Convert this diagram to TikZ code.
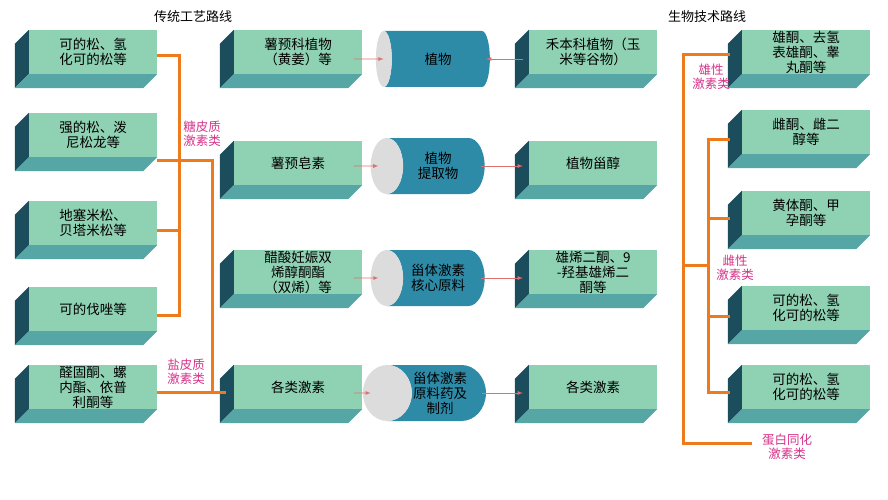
\documentclass[tikz,border=0pt]{standalone}
\usepackage{fontspec}
\setmainfont{Noto Sans CJK SC}
\usetikzlibrary{shapes.geometric}
\definecolor{boxfront}{HTML}{8FD1B3}
\definecolor{boxside}{HTML}{1B4D5C}
\definecolor{boxbottom}{HTML}{56A6A6}
\definecolor{cylbody}{HTML}{2E8BA8}
\definecolor{cylend}{HTML}{DCDCDC}
\definecolor{route}{HTML}{EE7A1C}
\definecolor{tag}{HTML}{D6338A}
\definecolor{link}{HTML}{E07070}
\tikzset{
  box/.style={fill=boxfront, minimum width=128pt, minimum height=44pt, inner sep=0pt,
    align=center, text width=104pt, font=\fontsize{13.5}{15}\selectfont},
  drum/.style={cylinder, shape border rotate=180, shape aspect=1.1, minimum width=56pt,
    minimum height=114pt, inner sep=1pt, cylinder uses custom fill, cylinder end fill=cylend,
    cylinder body fill=cylbody, align=center, font=\fontsize{13.5}{15}\selectfont},
  tagtext/.style={text=tag, align=center, font=\fontsize{12.5}{14}\selectfont},
  branch/.style={route, line width=3pt},
  feed/.style={link, thick, -latex}
}
% box with shaded left and bottom faces
\newcommand{\prism}[3]{%
  \node[box] (#1) at (#2) {#3};
  \fill[boxside] (#1.north west) -- (#1.south west) -- ++(-14,14) -- ([shift={(-14,14)}]#1.north west) -- cycle;
  \fill[boxbottom] (#1.south west) -- (#1.south east) -- ++(-14,14) -- ([shift={(-14,14)}]#1.south west) -- cycle;
}
\begin{document}
\begin{tikzpicture}[x=1pt, y=-1pt]
  \useasboundingbox (0,0) rectangle (888,500);
  \node at (193,17) {\fontsize{13}{15}\selectfont 传统工艺路线};
  \node at (707,17) {\fontsize{13}{15}\selectfont 生物技术路线};

  % traditional route
  \prism{l1}{93,52}{可的松、氢\\化可的松等}
  \prism{l2}{93,135}{强的松、泼\\尼松龙等}
  \prism{l3}{93,223}{地塞米松、\\贝塔米松等}
  \prism{l4}{93,309}{可的伐唑等}
  \prism{l5}{93,387}{醛固酮、螺\\内酯、依普\\利酮等}

  % raw materials
  \prism{m1}{298,52}{薯预科植物\\（黄姜）等}
  \prism{m2}{298,163}{薯预皂素}
  \prism{m3}{298,272}{醋酸妊娠双\\烯醇酮酯\\（双烯）等}
  \prism{m4}{298,387}{各类激素}

  \node[drum] (c1) at (438,59) {植物};
  \node[drum] (c2) at (438,166) {植物\\提取物};
  \node[drum] (c3) at (438,278) {甾体激素\\核心原料};
  \node[drum] (c4) at (440,393) {甾体激素\\原料药及\\制剂};

  \prism{r1}{593,52}{禾本科植物（玉\\米等谷物）};
  \prism{r2}{593,163}{植物甾醇}
  \prism{r3}{593,272}{雄烯二酮、9\\-羟基雄烯二\\酮等}
  \prism{r4}{593,387}{各类激素}

  % biotech route
  \prism{b1}{806,52}{雄酮、去氢\\表雄酮、睾\\丸酮等}
  \prism{b2}{806,132}{雌酮、雌二\\醇等}
  \prism{b3}{806,213}{黄体酮、甲\\孕酮等}
  \prism{b4}{806,308}{可的松、氢\\化可的松等}
  \prism{b5}{806,387}{可的松、氢\\化可的松等}

  \foreach \i in {1,...,4}
    \draw[feed] ([xshift=-8pt]m\i.east |- c\i.center) -- ([xshift=8pt]c\i.west);
  \draw[feed] ([xshift=-6pt]r1.west |- c1.center) -- ([xshift=-4pt]c1.east);
  \foreach \i in {2,3,4}
    \draw[feed] ([xshift=-4pt]c\i.east) -- ([xshift=-6pt]r\i.west |- c\i.center);

  % left branches
  \coordinate (gl) at (179,0);
  \coordinate (gm) at (212,0);
  \draw[branch] (l1.east |- 0,56) -| (gl |- 0,315) -- (l4.east |- 0,315);
  \draw[branch] (l2.east |- 0,160) -| (gm |- 0,392);
  \draw[branch] (l3.east |- 0,230) -- (gl |- 0,230);
  \draw[branch] (l5.east |- 0,392) -- ([xshift=-8pt]m4.west |- 0,392);
  \node[tagtext] (t1) at (202,134) {糖皮质\\激素类};
  \node[tagtext] (t2) at (186,372) {盐皮质\\激素类};

  % right branches
  \coordinate (gr) at (683,0);
  \coordinate (gs) at (708,0);
  \coordinate (pa) at (752,443);
  \draw[branch] ([xshift=-12pt]b1.west |- 0,55) -| (gr |- pa) -- (pa);
  \draw[branch] ([xshift=-12pt]b2.west |- 0,139) -| (gs |- 0,392) -- ([xshift=-12pt]b5.west |- 0,392);
  \draw[branch] ([xshift=-12pt]b3.west |- 0,218) -- (gs |- 0,218);
  \draw[branch] ([xshift=-12pt]b4.west |- 0,316) -- (gs |- 0,316);
  \draw[branch] (gr |- 0,265) -- (gs |- 0,265);
  \node[tagtext] (t3) at (711,77) {雄性\\激素类};
  \node[tagtext] (t4) at (735,268) {雌性\\激素类};
  \node[tagtext] (t5) at (787,447) {蛋白同化\\激素类};
\end{tikzpicture}
\end{document}
